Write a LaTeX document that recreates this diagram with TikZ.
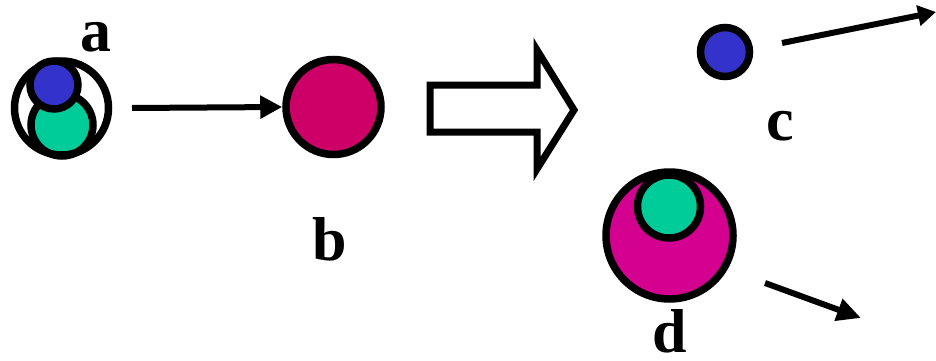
\documentclass[tikz,border=0pt]{standalone}
\usepackage{fontspec}
\setmainfont{Liberation Serif}
\usetikzlibrary{arrows.meta}
\definecolor{ablue}{HTML}{3333CC}
\definecolor{agreen}{HTML}{00CC99}
\definecolor{bmag}{HTML}{CC0066}
\definecolor{dmag}{HTML}{D4008F}
\begin{document}
\begin{tikzpicture}[x=1pt,y=-1pt,
  ball/.style={circle,draw=black,line width=7.5pt,inner sep=0pt},
  lbl/.style={anchor=base,font=\fontsize{62}{62}\selectfont\bfseries,inner sep=0pt},
  mv/.style={line width=6pt,-{Triangle[length=22pt,width=22pt]}}]
\useasboundingbox (0,0) rectangle (936,361);
% atom a
\node[circle,fill=white,minimum size=94pt,inner sep=0pt] (aback) at (61.5,108) {};
\node[ball,fill=agreen,minimum size=62pt] (agr) at (62,125) {};
\node[ball,minimum size=94pt] (aout) at (61.5,108) {};
\node[ball,fill=ablue,minimum size=48pt] (abl) at (54,85) {};
\node[lbl] (la) at (96,52) {a};
% b
\node[ball,fill=bmag,minimum size=95pt] (b) at (333.5,107) {};
\node[lbl] (lb) at (330,260) {b};
\coordinate (as) at (132,108);
\draw[mv] (as) -- (b.west);
% hollow arrow
\draw[line width=7pt,miter limit=10] (430,85) -- (537,85) -- (537,50) -- (574,110) -- (537,169) -- (537,132) -- (430,132) -- cycle;
% c
\node[ball,fill=ablue,minimum size=49pt] (c) at (725,52) {};
\node[lbl] (lc) at (780,140) {c};
\coordinate (cs) at (782,43);
\coordinate (ce) at (936,12);
\draw[line width=6pt,-{Triangle[length=18pt,width=20pt]}] (cs) -- (ce);
% d
\node[ball,fill=dmag,minimum size=127pt] (d) at (669.5,235.5) {};
\node[ball,fill=agreen,minimum size=63pt] (dg) at (669,206.5) {};
\node[lbl] (ld) at (670,352) {d};
\coordinate (ds) at (765,283);
\coordinate (de) at (861,318);
\draw[line width=6pt,-{Triangle[length=24pt,width=22pt]}] (ds) -- (de);
\end{tikzpicture}
\end{document}
